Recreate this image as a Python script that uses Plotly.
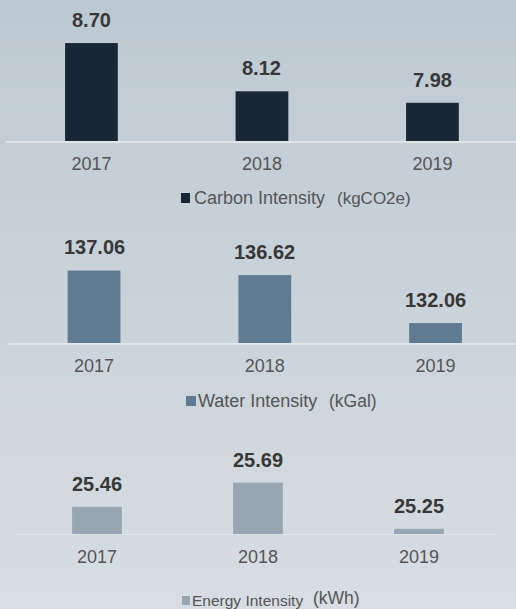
import plotly.graph_objects as go

years = ["2017", "2018", "2019"]
carbon = [8.70, 8.12, 7.98]
water = [137.06, 136.62, 132.06]
energy = [25.46, 25.69, 25.25]
carbon_label = "Carbon Intensity"
carbon_unit = "(kgCO2e)"
water_label = "Water Intensity"
water_unit = "(kGal)"
energy_label = "Energy Intensity"
energy_unit = "(kWh)"

W, H = 516, 609
def py(y):
    return 1 - y / H

FONT = "Liberation Sans, Arial"
colors = ["#172736", "#5f7a91", "#98a6b3"]

fig = go.Figure()
panels = [
    dict(vals=carbon, color=colors[0], xd=[6 / W, 1], yd=[py(141), 1], xr=[-0.501, 2.490], yr=[7.52, 9.219], ax="", line="#e2e5e8", lw=1.5),
    dict(vals=water, color=colors[1], xd=[9 / W, 1], yd=[py(343), py(225)], xr=[-0.498, 2.471], yr=[130.15, 141.39], ax="2", line="#e2e5e8", lw=1.5),
    dict(vals=energy, color=colors[2], xd=[16 / W, 499 / W], yd=[py(534), py(440)], xr=[-0.503, 2.497], yr=[25.20, 26.095], ax="3", line="#dde2e6", lw=1),
]

# background gradient
top = (189, 201, 210)
bot = (215, 221, 226)
N = 60
for i in range(N):
    t = i / (N - 1)
    c = tuple(round(top[k] + (bot[k] - top[k]) * t) for k in range(3))
    fig.add_shape(type="rect", xref="paper", yref="paper", x0=0, x1=1,
                  y0=1 - (i + 1) / N - 0.002, y1=1 - i / N,
                  fillcolor="rgb(%d,%d,%d)" % c, line_width=0, layer="below")

for p in panels:
    xa = "x" + p["ax"]
    ya = "y" + p["ax"]
    fig.add_trace(go.Bar(x=years, y=p["vals"], marker_color=p["color"],
                         marker_line=dict(color="rgba(255,255,255,0.2)", width=0.5),
                         xaxis=xa, yaxis=ya, showlegend=False, hoverinfo="skip"))
    for i, v in enumerate(p["vals"]):
        fig.add_annotation(x=i, y=v, xref=xa, yref=ya, text="<b>%.2f</b>" % v,
                           showarrow=False, yanchor="middle", yshift=23,
                           font=dict(family=FONT, size=20, color="#383838"))
    layout_x = "xaxis" + p["ax"]
    layout_y = "yaxis" + p["ax"]
    fig.update_layout({
        layout_x: dict(domain=p["xd"], range=p["xr"], type="category", anchor=ya,
                       showline=True, linecolor=p["line"], linewidth=p["lw"],
                       showgrid=False, zeroline=False, ticks="", ticklabelstandoff=6,
                       tickfont=dict(family=FONT, size=18, color="#555555")),
        layout_y: dict(domain=p["yd"], range=p["yr"], anchor=xa, visible=False,
                       showgrid=False, zeroline=False),
    })

# legend keys: (square x0, x1, y0, y1, label x, unit x, text y, color, label, unit, size, unit size, bottom-anchored)
legends = [
    (181, 190, 193, 203, 195, 338, 198, colors[0], carbon_label, carbon_unit, 18, 17, False),
    (186, 196, 396, 406, 199, 330, 401, colors[1], water_label, water_unit, 18, 17.5, False),
    (182, 190, 596, 605, 193, 314, 609, colors[2], energy_label, energy_unit, 15.5, 17.5, True),
]
for x0, x1, y0, y1, tx, ux, ty, col, lab, unit, fs, us, bottom in legends:
    fig.add_shape(type="rect", xref="paper", yref="paper", x0=x0 / W, x1=x1 / W,
                  y0=py(y1), y1=py(y0), fillcolor=col, line_width=0)
    anchor = "bottom" if bottom else "middle"
    fig.add_annotation(xref="paper", yref="paper", x=tx / W, y=py(ty), xanchor="left", yanchor=anchor,
                       showarrow=False, xshift=-2, borderpad=0, yshift=(-1 if bottom else 0),
                       text=lab, font=dict(family=FONT, size=fs, color="#555555"))
    fig.add_annotation(xref="paper", yref="paper", x=ux / W, y=py(ty), xanchor="left", yanchor=anchor,
                       showarrow=False, xshift=-2, borderpad=0, text=unit,
                       font=dict(family=FONT, size=us, color="#555555"))

fig.update_layout(width=W, height=H, margin=dict(l=0, r=0, t=0, b=0),
                  paper_bgcolor="#c8d1d8", plot_bgcolor="rgba(0,0,0,0)",
                  bargap=0.69, showlegend=False)
fig.write_html("out.html", config={"displayModeBar": False},
               post_script="document.body.style.margin='0';document.body.style.overflow='hidden';")
